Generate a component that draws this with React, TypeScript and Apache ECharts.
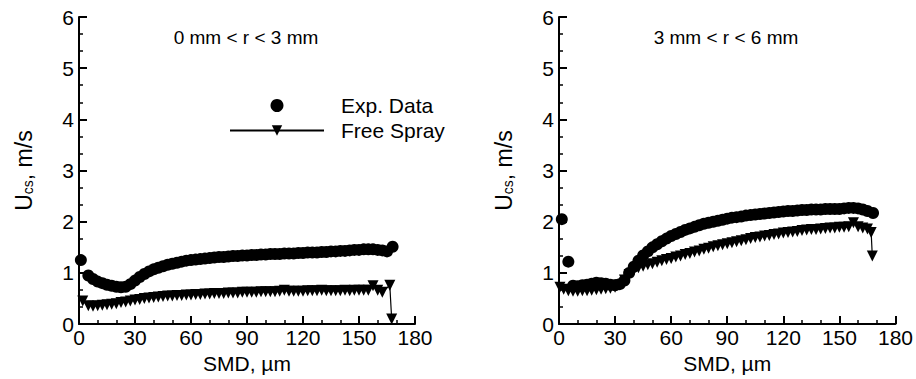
import React, { useEffect, useRef } from 'react';
import * as echarts from 'echarts';

const FONT = '"Liberation Sans", Arial, Helvetica, sans-serif';

const panelTitles = ['0 mm < r < 3 mm', '3 mm < r < 6 mm'];
const seriesNames = ['Exp. Data', 'Free Spray'];
const xTickValues = [0, 30, 60, 90, 120, 150, 180];
const yTickValues = [0, 1, 2, 3, 4, 5, 6];

// Left panel (0 mm < r < 3 mm): [SMD (µm), Ucs (m/s)]
const leftExp: [number, number][] = [
  [1, 1.25], [5, 0.95], [7.5, 0.88], [10, 0.83], [12.5, 0.8], [15, 0.77], [17.5, 0.75], [20, 0.73],
  [22.5, 0.72], [25, 0.73], [27.5, 0.78], [30, 0.85], [32.5, 0.92], [35, 0.98], [37.5, 1.03], [40, 1.07],
  [42.5, 1.1], [45, 1.13], [47.5, 1.16], [50, 1.18], [52.5, 1.2], [55, 1.22], [57.5, 1.24], [60, 1.25],
  [62.5, 1.26], [65, 1.27], [67.5, 1.28], [70, 1.29], [72.5, 1.3], [75, 1.31], [77.5, 1.31], [80, 1.32],
  [82.5, 1.33], [85, 1.33], [87.5, 1.34], [90, 1.34], [92.5, 1.35], [95, 1.35], [97.5, 1.36], [100, 1.36],
  [102.5, 1.37], [105, 1.37], [107.5, 1.37], [110, 1.38], [112.5, 1.38], [115, 1.38], [117.5, 1.39], [120, 1.39],
  [122.5, 1.4], [125, 1.4], [127.5, 1.4], [130, 1.41], [132.5, 1.41], [135, 1.42], [137.5, 1.42], [140, 1.43],
  [142.5, 1.43], [145, 1.44], [147.5, 1.45], [150, 1.45], [152.5, 1.46], [155, 1.46], [157.5, 1.46], [160, 1.45],
  [162.5, 1.44], [165, 1.42], [168, 1.51],
];

const leftFree: [number, number][] = [
  [2, 0.45], [5, 0.36], [7.5, 0.35], [10, 0.36], [12.5, 0.37], [15, 0.38], [17.5, 0.39], [20, 0.4],
  [22.5, 0.42], [25, 0.43], [27.5, 0.45], [30, 0.47], [32.5, 0.48], [35, 0.5], [37.5, 0.51], [40, 0.52],
  [42.5, 0.53], [45, 0.54], [47.5, 0.55], [50, 0.55], [52.5, 0.56], [55, 0.56], [57.5, 0.57], [60, 0.57],
  [62.5, 0.58], [65, 0.58], [67.5, 0.59], [70, 0.59], [72.5, 0.6], [75, 0.6], [77.5, 0.6], [80, 0.61],
  [82.5, 0.61], [85, 0.61], [87.5, 0.62], [90, 0.62], [92.5, 0.62], [95, 0.62], [97.5, 0.63], [100, 0.63],
  [102.5, 0.63], [105, 0.63], [107.5, 0.64], [110, 0.66], [112.5, 0.64], [115, 0.64], [117.5, 0.64], [120, 0.64],
  [122.5, 0.65], [125, 0.65], [127.5, 0.65], [130, 0.66], [132.5, 0.65], [135, 0.65], [137.5, 0.65], [140, 0.65],
  [142.5, 0.66], [145, 0.65], [147.5, 0.66], [150, 0.66], [152.5, 0.66], [155, 0.66], [157.5, 0.75], [160, 0.66],
  [162.5, 0.62], [166.5, 0.76], [167.5, 0.1],
];

// Right panel (3 mm < r < 6 mm)
const rightExp: [number, number][] = [
  [1.5, 2.05], [5, 1.22], [7.5, 0.75], [10, 0.74], [12.5, 0.76], [15, 0.77], [17.5, 0.79], [20, 0.81],
  [22.5, 0.8], [25, 0.79], [27.5, 0.77], [30, 0.76], [32.5, 0.78], [35, 0.85], [37.5, 1.0], [40, 1.12],
  [42.5, 1.24], [45, 1.34], [47.5, 1.42], [50, 1.5], [52.5, 1.56], [55, 1.62], [57.5, 1.67], [60, 1.72],
  [62.5, 1.76], [65, 1.8], [67.5, 1.84], [70, 1.87], [72.5, 1.9], [75, 1.93], [77.5, 1.96], [80, 1.98],
  [82.5, 2.0], [85, 2.02], [87.5, 2.04], [90, 2.06], [92.5, 2.08], [95, 2.09], [97.5, 2.1], [100, 2.12],
  [102.5, 2.13], [105, 2.14], [107.5, 2.15], [110, 2.16], [112.5, 2.17], [115, 2.18], [117.5, 2.19], [120, 2.2],
  [122.5, 2.21], [125, 2.21], [127.5, 2.22], [130, 2.23], [132.5, 2.23], [135, 2.24], [137.5, 2.24], [140, 2.24],
  [142.5, 2.25], [145, 2.25], [147.5, 2.25], [150, 2.25], [152.5, 2.26], [155, 2.27], [157.5, 2.27], [160, 2.26],
  [162.5, 2.24], [165, 2.21], [168, 2.17],
];

const rightFree: [number, number][] = [
  [0.5, 0.72], [2.5, 0.68], [5, 0.65], [7.5, 0.64], [10, 0.64], [12.5, 0.65], [15, 0.65], [17.5, 0.66],
  [20, 0.67], [22.5, 0.68], [25, 0.69], [27.5, 0.7], [30, 0.72], [32.5, 0.77], [35, 0.86], [37.5, 0.97],
  [40, 1.05], [42.5, 1.1], [45, 1.13], [47.5, 1.16], [50, 1.18], [52.5, 1.21], [55, 1.24], [57.5, 1.26],
  [60, 1.28], [62.5, 1.31], [65, 1.33], [67.5, 1.36], [70, 1.38], [72.5, 1.41], [75, 1.43], [77.5, 1.46],
  [80, 1.48], [82.5, 1.51], [85, 1.53], [87.5, 1.55], [90, 1.57], [92.5, 1.59], [95, 1.61], [97.5, 1.63],
  [100, 1.65], [102.5, 1.67], [105, 1.69], [107.5, 1.7], [110, 1.72], [112.5, 1.73], [115, 1.75], [117.5, 1.76],
  [120, 1.78], [122.5, 1.79], [125, 1.8], [127.5, 1.81], [130, 1.83], [132.5, 1.84], [135, 1.85], [137.5, 1.85],
  [140, 1.86], [142.5, 1.87], [145, 1.88], [147.5, 1.88], [150, 1.89], [152.5, 1.89], [155, 1.9], [157.5, 1.98],
  [160, 1.9], [162.5, 1.88], [165, 1.86], [167, 1.79], [167.6, 1.33],
];

const grids = [
  { left: 79, top: 17, width: 336, height: 308 },
  { left: 559, top: 17, width: 337, height: 308 },
];

function makeXAxis(gridIndex: number) {
  return {
    type: 'value',
    gridIndex,
    min: xTickValues[0],
    max: xTickValues[xTickValues.length - 1],
    interval: xTickValues[1] - xTickValues[0],
    name: 'SMD, µm',
    nameLocation: 'middle',
    nameGap: 25,
    nameTextStyle: { color: '#000', fontSize: 21, fontFamily: FONT },
    axisLine: { show: true, onZero: false, lineStyle: { color: '#000', width: 2 } },
    axisTick: { show: true, inside: true, length: 8, lineStyle: { color: '#000', width: 2 } },
    minorTick: { show: true, splitNumber: 3, length: 4, lineStyle: { color: '#000', width: 1.5 } },
    axisLabel: { color: '#000', fontSize: 21, fontFamily: FONT, margin: 3 },
    splitLine: { show: false },
  };
}

function makeYAxis(gridIndex: number) {
  return {
    type: 'value',
    gridIndex,
    min: yTickValues[0],
    max: yTickValues[yTickValues.length - 1],
    interval: yTickValues[1] - yTickValues[0],
    name: '{a|U}{b|cs}{a|, m/s}',
    nameLocation: 'middle',
    nameRotate: 90,
    nameGap: 44,
    nameTextStyle: {
      color: '#000',
      fontFamily: FONT,
      rich: {
        a: { fontSize: 23, fontFamily: FONT, color: '#000', lineHeight: 26, verticalAlign: 'bottom' },
        b: { fontSize: 14, fontFamily: FONT, color: '#000', lineHeight: 15, verticalAlign: 'bottom' },
      },
    },
    axisLine: { show: true, onZero: false, lineStyle: { color: '#000', width: 2 } },
    axisTick: { show: true, inside: true, length: 8, lineStyle: { color: '#000', width: 2 } },
    minorTick: { show: true, splitNumber: 3, length: 4, lineStyle: { color: '#000', width: 1.5 } },
    axisLabel: { color: '#000', fontSize: 21, fontFamily: FONT, margin: 5 },
    splitLine: { show: false },
  };
}

function expSeries(idx: number, data: [number, number][]) {
  return {
    name: seriesNames[0],
    type: 'scatter',
    xAxisIndex: idx,
    yAxisIndex: idx,
    data,
    symbol: 'circle',
    symbolSize: 12,
    itemStyle: { color: '#000', opacity: 1 },
    z: 3,
  };
}

function freeSeries(idx: number, data: [number, number][]) {
  return {
    name: seriesNames[1],
    type: 'line',
    xAxisIndex: idx,
    yAxisIndex: idx,
    data,
    symbol: 'triangle',
    symbolSize: 11,
    symbolRotate: 180,
    showAllSymbol: true,
    itemStyle: { color: '#000', opacity: 1 },
    lineStyle: { color: '#000', width: 1.2 },
    z: 2,
  };
}

export default function App() {
  const ref = useRef<HTMLDivElement>(null);
  useEffect(() => {
    if (!ref.current) return;
    const chart = echarts.init(ref.current, undefined, { renderer: 'svg' });
    chart.setOption({
      animation: false,
      backgroundColor: '#fff',
      grid: grids,
      xAxis: [makeXAxis(0), makeXAxis(1)],
      yAxis: [makeYAxis(0), makeYAxis(1)],
      legend: {
        data: seriesNames,
        orient: 'vertical',
        left: 229,
        top: 95,
        padding: 0,
        itemWidth: 94,
        itemHeight: 13,
        itemGap: 4,
        selectedMode: false,
        textStyle: { color: '#000', fontSize: 21, fontFamily: FONT, padding: [0, 0, 0, 12] },
      },
      graphic: [
        {
          type: 'text',
          x: 246,
          y: 37,
          style: { text: panelTitles[0], fill: '#000', fontSize: 19, fontFamily: FONT, align: 'center', verticalAlign: 'middle' },
        },
        {
          type: 'text',
          x: 726,
          y: 37,
          style: { text: panelTitles[1], fill: '#000', fontSize: 19, fontFamily: FONT, align: 'center', verticalAlign: 'middle' },
        },
      ],
      series: [
        freeSeries(0, leftFree),
        expSeries(0, leftExp),
        freeSeries(1, rightFree),
        expSeries(1, rightExp),
      ],
    });
    return () => chart.dispose();
  }, []);
  return (
    <div
      ref={ref}
      style={{ position: 'absolute', left: 0, top: 0, width: 916, height: 379, background: '#fff' }}
    />
  );
}
